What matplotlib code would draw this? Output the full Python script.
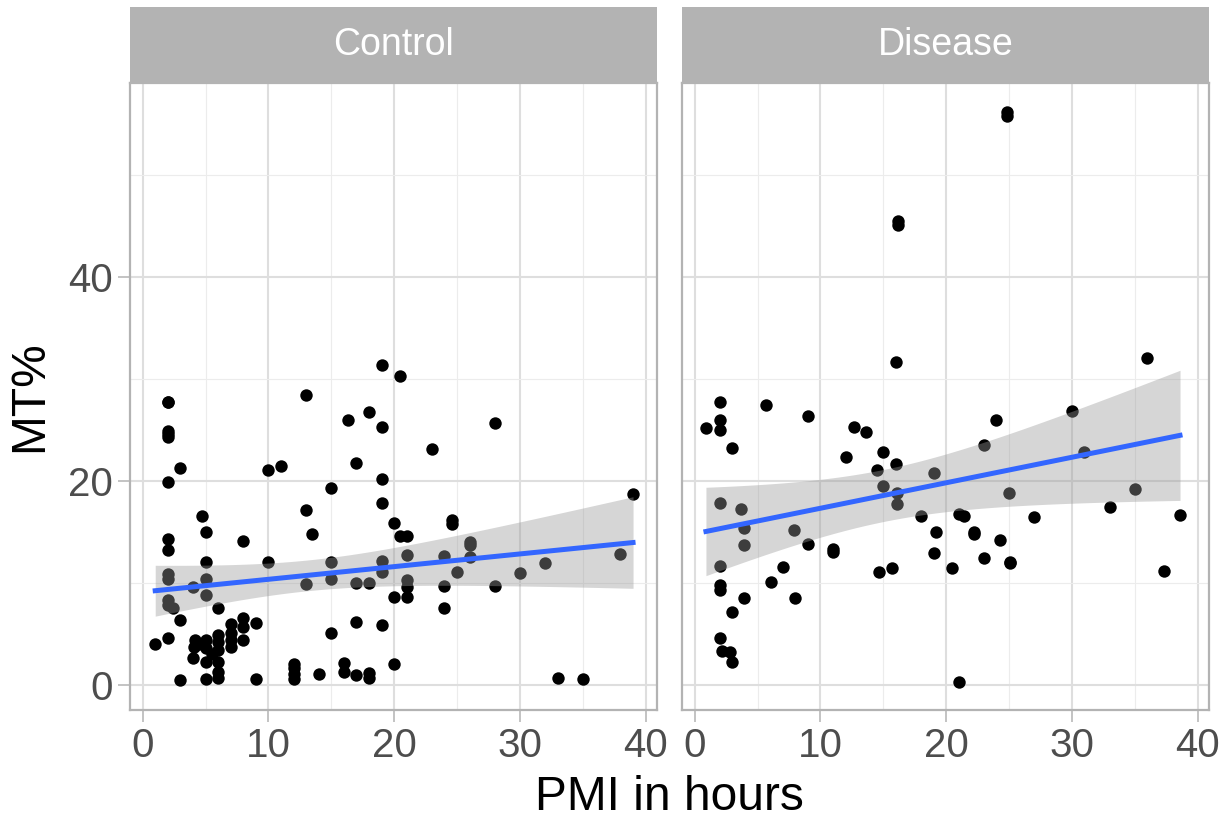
import numpy as np
import matplotlib.pyplot as plt
from matplotlib.ticker import MultipleLocator

plt.rcParams['font.family'] = ['Liberation Sans', 'DejaVu Sans']

panels = ['Control', 'Disease']

control_x = [1, 2, 2, 2, 2, 2, 2, 2, 2, 2, 2, 2, 2, 2, 2.4, 3, 3, 3, 4, 4.2, 4.1, 4, 4.5,
             4.7, 5, 5, 5, 5, 5, 5, 5, 5, 5.5, 6, 6, 6, 6, 6, 6, 6, 7, 7, 7, 7,
             8, 8, 8, 8, 9, 9, 10, 10, 11, 12, 12, 12, 12, 13, 13, 13, 13.5, 14,
             15, 15, 15, 15, 16, 16, 16.3, 17, 17, 17, 17, 18, 18, 18, 18,
             19, 19, 19, 19, 19, 19, 19, 20, 20, 20, 20.5, 20.5, 21, 21, 21, 21, 21,
             23, 24.6, 24.6, 24, 24, 24, 25, 26, 26, 26, 28, 28, 30, 32, 33, 35, 38, 39]
control_y = [4.0, 27.7, 27.7, 24.9, 24.6, 24.3, 19.9, 14.3, 13.2, 10.8, 10.4, 8.3, 7.8, 4.6, 7.5,
             21.2, 6.3, 0.4, 9.6, 4.4, 3.7, 2.6, 4.0,
             16.5, 15.0, 12.0, 10.4, 8.8, 4.4, 3.6, 2.2, 0.5, 3.0,
             7.5, 4.9, 4.2, 3.4, 2.2, 1.2, 0.6, 5.9, 5.1, 3.7, 4.4,
             14.1, 6.5, 5.6, 4.4, 6.0, 0.5, 21.0, 12.0, 21.4, 2.0, 1.6, 1.0, 0.5,
             28.4, 17.1, 9.9, 14.8, 1.0,
             19.3, 12.0, 10.4, 5.1, 2.1, 1.2, 25.9, 21.7, 10.0, 6.1, 0.9, 26.7, 10.0, 1.1, 0.6,
             31.3, 25.3, 20.2, 17.8, 12.1, 11.0, 5.8, 15.8, 8.6, 2.0, 30.3, 14.6,
             14.6, 12.7, 10.3, 9.6, 8.6,
             23.1, 16.1, 15.7, 12.6, 9.7, 7.5, 11.0, 14.0, 13.7, 12.5, 25.7, 9.7,
             10.9, 11.9, 0.6, 0.5, 12.8, 18.7]

disease_x = [0.9, 2, 2, 2, 2, 2, 2, 2, 2, 2.2, 2.8, 3, 3, 3, 3.7, 3.9, 3.9, 3.9,
             5.7, 6.1, 7, 7.9, 8, 9, 9, 11, 11, 12, 12.7, 13.6, 14.5, 14.7, 15, 15,
             15.7, 16, 16, 16.1, 16.1, 16.2, 16.2, 18, 19, 19.2, 19, 20.5,
             21, 21.4, 21, 22.2, 22.2, 23, 23, 24, 24.3, 24.85, 24.85, 25, 25.1, 25.1,
             27, 30, 31, 33, 35, 36, 37.3, 38.6]
disease_y = [25.2, 27.7, 25.9, 25.0, 17.8, 11.6, 9.8, 9.3, 4.6, 3.3, 3.2, 23.2, 7.1, 2.2,
             17.2, 15.4, 13.7, 8.5, 27.4, 10.1, 11.5, 15.2, 8.5, 26.3, 13.8, 13.3, 13.0,
             22.3, 25.3, 24.8, 21.0, 11.0, 22.8, 19.5, 11.4, 31.6, 21.6, 18.8, 17.7,
             45.5, 45.1, 16.5, 20.7, 15.0, 12.9, 11.4,
             16.7, 16.5, 0.3, 15.0, 14.8, 23.5, 12.4, 25.9, 14.2, 56.2, 55.8, 18.8, 11.9, 12.0,
             16.4, 26.8, 22.8, 17.4, 19.2, 32.0, 11.1, 16.6]

data = {'Control': (control_x, control_y), 'Disease': (disease_x, disease_y)}


def fit_band(x, y, grid):
    x = np.asarray(x, float)
    y = np.asarray(y, float)
    n = len(x)
    b, a = np.polyfit(x, y, 1)
    s = np.sqrt(np.sum((y - (a + b * x)) ** 2) / (n - 2))
    se = s * np.sqrt(1 / n + (grid - x.mean()) ** 2 / np.sum((x - x.mean()) ** 2))
    df = n - 2
    z = 1.959964
    t = z + (z ** 3 + z) / (4 * df) + (5 * z ** 5 + 16 * z ** 3 + 3 * z) / (96 * df ** 2)
    fit = a + b * grid
    return fit, fit - t * se, fit + t * se


allx = np.array(control_x + disease_x)
ally = np.array(control_y + disease_y)
xr = allx.max() - allx.min()
yr = ally.max() - ally.min()
xlim = (allx.min() - 0.05 * xr, allx.max() + 0.05 * xr)
ylim = (ally.min() - 0.05 * yr, ally.max() + 0.05 * yr)

fig = plt.figure(figsize=(12.28, 8.19), dpi=100)

lefts = [130 / 1228, 682 / 1228]
width = 527 / 1228
bottom = 1 - 710 / 819
height = (710 - 83) / 819

for i, name in enumerate(panels):
    ax = fig.add_axes([lefts[i], bottom, width, height])
    x, y = data[name]
    ax.scatter(x, y, s=80, color='black', linewidths=0, zorder=3)
    grid = np.linspace(min(x), max(x), 80)
    fit, lo, hi = fit_band(x, y, grid)
    ax.fill_between(grid, lo, hi, color='#999999', alpha=0.4, linewidth=0, zorder=4)
    ax.plot(grid, fit, color='#3366FF', linewidth=3.6, zorder=5)

    ax.set_xlim(xlim)
    ax.set_ylim(ylim)
    ax.xaxis.set_major_locator(MultipleLocator(10))
    ax.xaxis.set_minor_locator(MultipleLocator(5))
    ax.yaxis.set_major_locator(MultipleLocator(20))
    ax.yaxis.set_minor_locator(MultipleLocator(10))
    ax.grid(which='major', color='#dedede', linewidth=1.5)
    ax.grid(which='minor', color='#ececec', linewidth=0.8)
    ax.set_axisbelow(True)
    for sp in ax.spines.values():
        sp.set_color('#b3b3b3')
        sp.set_linewidth(1.6)
    ax.tick_params(which='major', length=8.5, width=1.1, color='#b3b3b3',
                   labelcolor='#4d4d4d', labelsize=29, pad=4)
    ax.tick_params(which='minor', length=0)
    if i > 0:
        ax.tick_params(axis='y', which='both', left=False, labelleft=False)

    strip = fig.add_axes([lefts[i], 1 - 83 / 819, width, 76 / 819])
    strip.set_facecolor('#b3b3b3')
    strip.set_xticks([])
    strip.set_yticks([])
    for sp in strip.spines.values():
        sp.set_visible(False)
    strip.text(0.5, 0.5, name, color='white', fontsize=27,
               ha='center', va='center', transform=strip.transAxes)

fig.text(30 / 1228, 1 - 396 / 819, 'MT%', rotation=90, fontsize=34.5,
         ha='center', va='center')
fig.text(669 / 1228, 1 - 797 / 819, 'PMI in hours', fontsize=34.5,
         ha='center', va='center')

fig.savefig('out.png', dpi=100)
